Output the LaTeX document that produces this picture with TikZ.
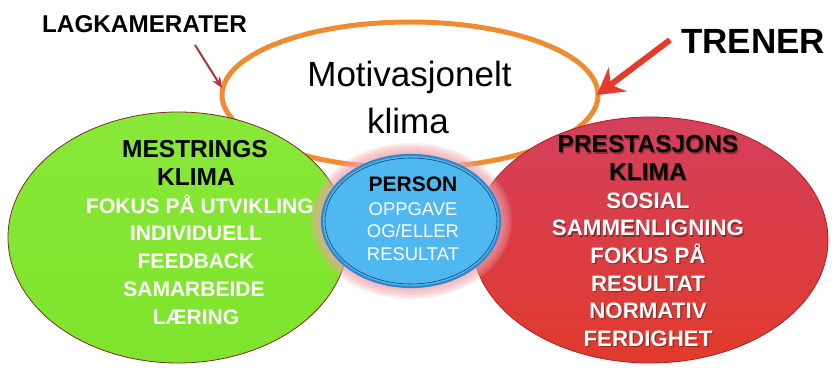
\documentclass[tikz,border=0pt]{standalone}
\usepackage{fontspec}
\setmainfont{Liberation Sans}
\usetikzlibrary{shapes.geometric,arrows.meta}
\definecolor{orng}{HTML}{F08B32}
\definecolor{grn}{HTML}{7EE42C}
\definecolor{grntop}{HTML}{88E838}
\definecolor{grnedge}{HTML}{7A3020}
\definecolor{redtop}{HTML}{D4405C}
\definecolor{redbot}{HTML}{E23A2C}
\definecolor{rededge}{HTML}{A82028}
\definecolor{blu}{HTML}{50B8F0}
\definecolor{bluedge}{HTML}{2E88CC}
\definecolor{bludark}{HTML}{1C3E64}
\definecolor{glow}{HTML}{F0A0A8}
\definecolor{arrred}{HTML}{E8382E}
\definecolor{arrdark}{HTML}{B8303A}
\tikzset{
  bubble/.style={ellipse, inner sep=0pt, outer sep=0pt},
  blk/.style={text=black, font=\bfseries\fontsize{24.5}{28}\selectfont, anchor=base, inner sep=0pt},
  wht/.style={text=white, font=\bfseries\fontsize{21}{25}\selectfont, anchor=base, inner sep=0pt},
  whtr/.style={text=white, font=\bfseries\fontsize{22.3}{26}\selectfont, anchor=base, inner sep=0pt},
  shd/.style={text=black, opacity=0.35, anchor=base, inner sep=0pt},
}
\begin{document}
\begin{tikzpicture}[x=1pt,y=-1pt]
\useasboundingbox (0,0) rectangle (838,382);
% orange ellipse
\node[bubble, draw=orng, line width=5pt, fill=white, minimum width=376pt, minimum height=146pt] (motiv) at (410,95) {};
\node[anchor=base, inner sep=0pt, font=\fontsize{35}{40}\selectfont] (mt1) at (409.5,87) {Motivasjonelt};
\node[anchor=base, inner sep=0pt, font=\fontsize{35}{40}\selectfont] (mt2) at (408,134) {klima};
% green
\node[bubble, draw=grnedge, line width=0.8pt, top color=grntop, bottom color=grn, minimum width=340pt, minimum height=251pt] (green) at (178,237.5) {};
% red
\node[bubble, draw=rededge, line width=0.8pt, top color=redtop, bottom color=redbot, minimum width=356pt, minimum height=246pt] (red) at (650,240) {};
% glow
\foreach \r in {12,10,8,6,4,2}
  \fill[glow, opacity=0.2] (411,221) ellipse [x radius=89pt+\r pt, y radius=66pt+\r pt];
% blue
\node[bubble, draw=bluedge, line width=2.2pt, fill=blu, minimum width=178pt, minimum height=132pt] (blue) at (411,221) {};
\node[bubble, draw=bludark, line width=0.6pt, minimum width=172pt, minimum height=126pt] (bluein) at (411,221) {};
% green text
\node[blk] (g1) at (195,157.5) {MESTRINGS};
\node[blk] (g2) at (196,185.3) {KLIMA};
\node[wht] (g3) at (200,213.1) {FOKUS PÅ UTVIKLING};
\node[wht] (g4) at (196,240.9) {INDIVIDUELL};
\node[wht] (g5) at (196,268.7) {FEEDBACK};
\node[wht] (g6) at (194,296.5) {SAMARBEIDE};
\node[wht] (g7) at (196,324.3) {LÆRING};
% red text (with shadow)
\foreach \t [count=\i] in {PRESTASJONS,KLIMA}
  \node[shd, font=\bfseries\fontsize{24.5}{28}\selectfont] (rs\i) at (649.2,154.2+27.6*\i-27.6) {\t};
\foreach \t [count=\i from 3] in {SOSIAL,SAMMENLIGNING,FOKUS PÅ,RESULTAT,NORMATIV,FERDIGHET}
  \node[shd, font=\bfseries\fontsize{22.3}{26}\selectfont] (rs\i) at (649.2,154.2+27.6*\i-27.6) {\t};
\node[blk] (r1) at (648,153) {PRESTASJONS};
\node[blk] (r2) at (648,180.6) {KLIMA};
\foreach \t [count=\i from 3] in {SOSIAL,SAMMENLIGNING,FOKUS PÅ,RESULTAT,NORMATIV,FERDIGHET}
  \node[whtr] (r\i) at (648,153+27.6*\i-27.6) {\t};
% blue text
\node[anchor=base, inner sep=0pt, font=\bfseries\fontsize{21}{24}\selectfont] (b1) at (413,192) {PERSON};
\node[anchor=base, inner sep=0pt, text=white, font=\fontsize{18.4}{22}\selectfont] (b2) at (413,215) {OPPGAVE};
\node[anchor=base, inner sep=0pt, text=white, font=\fontsize{18.4}{22}\selectfont] (b3) at (413,237.5) {OG/ELLER};
\node[anchor=base, inner sep=0pt, text=white, font=\fontsize{18.4}{22}\selectfont] (b4) at (413,260) {RESULTAT};
% labels
\node[inner sep=0pt, font=\bfseries\fontsize{24.3}{28}\selectfont] (lag) at (144.5,24) {LAGKAMERATER};
\node[inner sep=0pt, font=\bfseries\fontsize{35}{40}\selectfont] (tren) at (753,41.5) {TRENER};
% arrows
\coordinate (lagstart) at (195,45);
\coordinate (lagtip) at (222,88);
\draw[arrdark, line width=2pt, -{Stealth[length=11pt,width=9pt]}] (lagstart) -- (lagtip);
\coordinate (trenstart) at (670,40);
\coordinate (trentip) at (597,95);
\draw[arrred, line width=6pt, -{Stealth[length=26pt,width=30pt,inset=9pt]}] (trenstart) -- (trentip);
\end{tikzpicture}
\end{document}
